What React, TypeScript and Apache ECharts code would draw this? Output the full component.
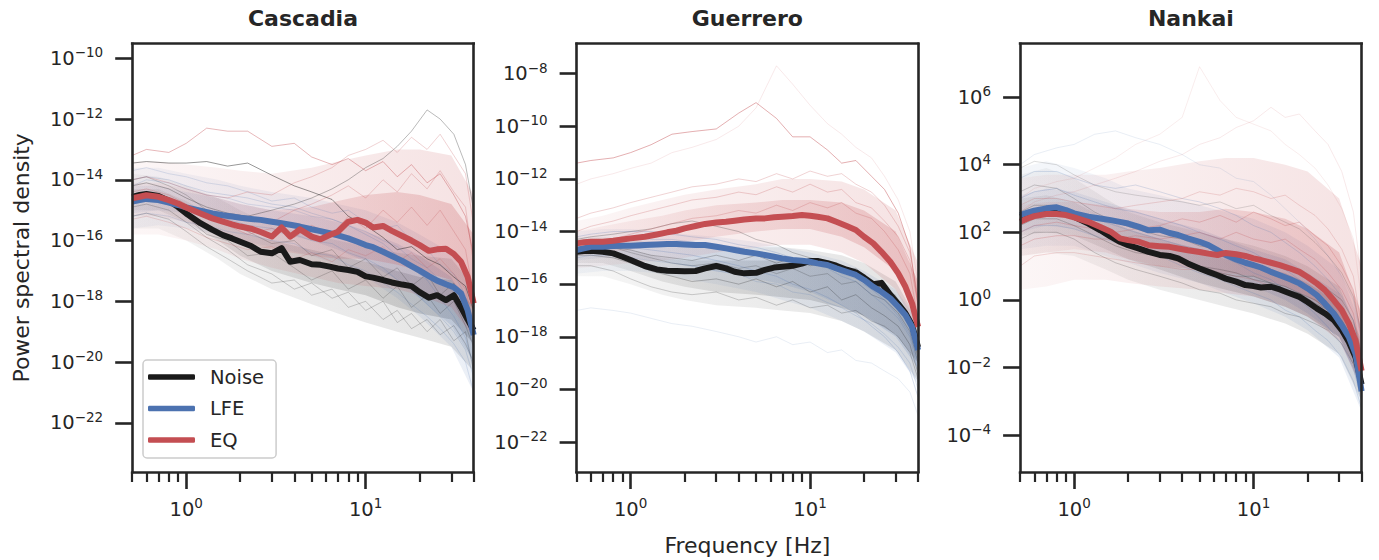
import { useEffect, useRef } from "react";
import * as echarts from "echarts";

// ---------------- DATA ----------------
// Frequencies (Hz) of the mean spectra
const FREQ = [0.5, 0.55, 0.6, 0.7, 0.8, 0.9, 1, 1.2, 1.4, 1.6, 1.8, 2, 2.3, 2.6, 3, 3.4, 3.8, 4.3, 5, 5.6, 6.3, 7, 8, 9, 10, 11, 12.5, 14, 16, 18, 20, 22.5, 25, 28, 31, 34, 37, 40];

// Mean spectra, log10 of power spectral density
const CAS_NOISE = [-14.56, -14.5, -14.47, -14.53, -14.69, -14.89, -15.11, -15.43, -15.65, -15.82, -15.93, -16.04, -16.18, -16.37, -16.42, -16.25, -16.7, -16.64, -16.78, -16.8, -16.86, -16.92, -16.97, -17.03, -17.18, -17.22, -17.3, -17.38, -17.45, -17.5, -17.7, -17.88, -17.8, -17.96, -17.8, -18.2, -18.6, -18.95];
const CAS_LFE = [-14.72, -14.67, -14.63, -14.67, -14.75, -14.83, -14.91, -15.02, -15.11, -15.17, -15.21, -15.25, -15.29, -15.32, -15.38, -15.43, -15.48, -15.54, -15.63, -15.69, -15.76, -15.83, -15.93, -16.04, -16.15, -16.22, -16.37, -16.51, -16.67, -16.84, -16.99, -17.17, -17.32, -17.44, -17.54, -17.74, -18.29, -19.11];
const CAS_EQ = [-14.61, -14.56, -14.51, -14.56, -14.67, -14.78, -14.91, -15.11, -15.27, -15.38, -15.47, -15.54, -15.61, -15.72, -15.87, -15.57, -15.87, -15.63, -15.87, -15.96, -15.82, -15.71, -15.38, -15.32, -15.41, -15.57, -15.52, -15.68, -15.85, -16.0, -16.15, -16.34, -16.29, -16.27, -16.44, -16.7, -17.19, -18.07];

const GUE_NOISE = [-14.77, -14.74, -14.73, -14.77, -14.83, -14.96, -15.08, -15.31, -15.44, -15.49, -15.5, -15.51, -15.5, -15.4, -15.31, -15.4, -15.53, -15.59, -15.57, -15.46, -15.37, -15.34, -15.3, -15.22, -15.12, -15.12, -15.2, -15.3, -15.45, -15.55, -15.75, -16.0, -15.95, -16.4, -16.75, -17.1, -17.55, -18.4];
const GUE_LFE = [-14.7, -14.64, -14.58, -14.58, -14.55, -14.54, -14.54, -14.51, -14.49, -14.47, -14.47, -14.49, -14.51, -14.51, -14.58, -14.64, -14.7, -14.77, -14.83, -14.89, -14.96, -15.02, -15.08, -15.11, -15.15, -15.21, -15.27, -15.4, -15.53, -15.65, -15.84, -16.1, -16.29, -16.54, -16.86, -17.17, -17.62, -18.5];
const GUE_EQ = [-14.45, -14.41, -14.39, -14.39, -14.35, -14.3, -14.26, -14.2, -14.11, -14.03, -13.97, -13.88, -13.79, -13.71, -13.66, -13.63, -13.59, -13.54, -13.5, -13.5, -13.46, -13.44, -13.41, -13.37, -13.4, -13.44, -13.5, -13.63, -13.79, -13.94, -14.2, -14.45, -14.77, -15.15, -15.59, -16.1, -16.73, -17.62];

const NAN_NOISE = [2.46, 2.52, 2.56, 2.61, 2.61, 2.56, 2.46, 2.26, 2.06, 1.87, 1.72, 1.62, 1.52, 1.42, 1.33, 1.3, 1.23, 1.08, 0.93, 0.83, 0.73, 0.63, 0.54, 0.44, 0.41, 0.37, 0.39, 0.31, 0.19, 0.09, -0.06, -0.25, -0.4, -0.6, -0.89, -1.25, -1.7, -2.5];
const NAN_LFE = [2.51, 2.58, 2.64, 2.71, 2.74, 2.66, 2.56, 2.46, 2.41, 2.36, 2.31, 2.26, 2.16, 2.06, 2.08, 1.98, 1.92, 1.82, 1.72, 1.62, 1.47, 1.33, 1.2, 1.1, 1.03, 0.96, 0.83, 0.73, 0.61, 0.49, 0.34, 0.14, -0.11, -0.4, -0.75, -1.1, -1.6, -2.7];
const NAN_EQ = [2.31, 2.41, 2.48, 2.54, 2.54, 2.51, 2.44, 2.31, 2.16, 2.02, 1.82, 1.77, 1.72, 1.62, 1.59, 1.57, 1.52, 1.47, 1.42, 1.37, 1.33, 1.39, 1.35, 1.3, 1.23, 1.18, 1.1, 1.03, 0.93, 0.83, 0.68, 0.49, 0.29, -0.01, -0.3, -0.7, -1.2, -2.1];

// Spread of the individual spectra: [outer low, outer high, inner low, inner high]
const BAND_FREQ = [0.5, 0.7, 1, 1.5, 2, 3, 5, 7, 10, 15, 20, 30, 40];
const CAS_NOISE_BAND = [
  [-15.6, -15.6, -16.0, -16.6, -17.1, -17.6, -18.1, -18.4, -18.7, -19.0, -19.2, -19.5, -20.3],
  [-13.8, -13.9, -14.2, -14.6, -15.0, -15.5, -15.8, -16.0, -16.2, -16.4, -16.5, -16.6, -17.5],
  [-15.0, -15.0, -15.4, -16.0, -16.5, -17.0, -17.4, -17.6, -17.8, -18.2, -18.4, -18.6, -19.4],
  [-14.3, -14.3, -14.7, -15.3, -15.7, -16.0, -16.3, -16.5, -16.7, -17.0, -17.2, -17.3, -18.2],
];
const CAS_LFE_BAND = [
  [-15.6, -15.5, -15.6, -15.8, -16.0, -16.2, -16.5, -16.8, -17.2, -17.9, -18.5, -19.5, -21.0],
  [-13.6, -13.6, -13.8, -14.0, -14.2, -14.4, -14.6, -14.8, -15.0, -15.4, -15.8, -16.4, -17.6],
  [-15.1, -15.0, -15.1, -15.3, -15.5, -15.7, -16.0, -16.3, -16.7, -17.3, -17.9, -18.8, -20.0],
  [-14.2, -14.2, -14.4, -14.6, -14.8, -15.0, -15.2, -15.4, -15.7, -16.1, -16.5, -17.2, -18.5],
];
const CAS_EQ_BAND = [
  [-15.8, -15.8, -16.0, -16.3, -16.6, -16.9, -17.2, -17.4, -17.5, -17.6, -17.8, -18.2, -19.2],
  [-13.4, -13.4, -13.5, -13.6, -13.7, -13.8, -13.6, -13.4, -13.2, -13.0, -13.0, -13.2, -14.5],
  [-15.2, -15.2, -15.4, -15.7, -16.0, -16.3, -16.5, -16.6, -16.6, -16.8, -17.0, -17.3, -18.3],
  [-14.1, -14.1, -14.3, -14.6, -14.8, -15.0, -14.9, -14.7, -14.5, -14.4, -14.5, -14.8, -15.8],
];
const GUE_NOISE_BAND = [
  [-15.7, -15.7, -16.0, -16.4, -16.6, -16.8, -16.9, -17.0, -17.1, -17.4, -17.8, -18.5, -19.7],
  [-14.2, -14.2, -14.3, -14.5, -14.6, -14.6, -14.6, -14.6, -14.7, -14.9, -15.2, -15.9, -17.4],
  [-15.2, -15.2, -15.5, -15.9, -16.1, -16.3, -16.4, -16.5, -16.6, -16.9, -17.2, -17.9, -19.0],
  [-14.5, -14.5, -14.7, -15.0, -15.1, -15.1, -15.1, -15.1, -15.2, -15.4, -15.7, -16.4, -17.9],
];
const GUE_LFE_BAND = [
  [-15.6, -15.5, -15.5, -15.6, -15.8, -16.0, -16.3, -16.6, -16.9, -17.4, -17.8, -18.6, -19.8],
  [-14.0, -13.9, -13.9, -14.0, -14.1, -14.2, -14.4, -14.6, -14.8, -15.1, -15.5, -16.2, -17.4],
  [-15.1, -15.0, -15.0, -15.1, -15.3, -15.5, -15.8, -16.0, -16.3, -16.8, -17.2, -18.0, -19.2],
  [-14.4, -14.3, -14.3, -14.4, -14.5, -14.6, -14.8, -15.0, -15.2, -15.6, -16.0, -16.7, -18.0],
];
const GUE_EQ_BAND = [
  [-15.4, -15.3, -15.2, -15.1, -15.0, -14.8, -14.6, -14.5, -14.5, -14.8, -15.2, -16.2, -17.8],
  [-13.6, -13.4, -13.1, -12.8, -12.6, -12.4, -12.2, -12.0, -12.0, -12.1, -12.4, -13.2, -15.2],
  [-14.9, -14.8, -14.7, -14.5, -14.4, -14.2, -14.0, -13.9, -13.9, -14.2, -14.6, -15.5, -17.0],
  [-14.0, -13.8, -13.6, -13.4, -13.2, -13.0, -12.9, -12.8, -12.8, -12.9, -13.2, -14.0, -15.9],
];
const NAN_NOISE_BAND = [
  [1.3, 1.4, 1.3, 0.9, 0.6, 0.3, 0.0, -0.2, -0.4, -0.7, -1.0, -1.6, -3.0],
  [3.7, 3.9, 3.6, 3.0, 2.6, 2.3, 2.0, 1.8, 1.6, 1.3, 1.0, 0.4, -1.2],
  [1.9, 2.0, 1.9, 1.5, 1.2, 0.9, 0.5, 0.3, 0.1, -0.2, -0.5, -1.1, -2.4],
  [3.0, 3.1, 2.9, 2.4, 2.1, 1.8, 1.5, 1.2, 1.0, 0.8, 0.5, -0.1, -1.8],
];
const NAN_LFE_BAND = [
  [1.5, 1.6, 1.6, 1.3, 1.1, 0.8, 0.5, 0.2, -0.1, -0.5, -0.9, -1.7, -3.3],
  [3.9, 4.1, 3.9, 3.6, 3.3, 3.1, 2.8, 2.6, 2.4, 2.0, 1.6, 0.9, -0.8],
  [2.0, 2.2, 2.1, 1.8, 1.6, 1.3, 1.0, 0.7, 0.4, 0.0, -0.4, -1.1, -2.7],
  [3.1, 3.3, 3.2, 2.9, 2.7, 2.4, 2.1, 1.8, 1.5, 1.2, 0.8, 0.2, -1.5],
];
const NAN_EQ_BAND = [
  [0.3, 0.4, 0.6, 0.6, 0.5, 0.4, 0.3, 0.2, 0.1, -0.2, -0.5, -1.2, -2.6],
  [3.6, 3.7, 3.7, 3.7, 3.8, 3.9, 4.1, 4.2, 4.2, 4.0, 3.8, 3.0, 1.0],
  [1.3, 1.4, 1.5, 1.4, 1.2, 1.0, 0.9, 0.8, 0.7, 0.4, 0.1, -0.5, -2.0],
  [2.8, 2.9, 2.9, 2.8, 2.7, 2.6, 2.6, 2.7, 2.6, 2.4, 2.1, 1.4, -0.4],
];

// A few individual spectra (log10 PSD)
const FAINT_FREQ = [0.5, 0.6, 0.8, 1, 1.3, 1.7, 2.2, 3, 4, 5, 6.5, 8, 10, 12.5, 15, 18, 22, 26, 31, 36, 40];
const CAS_NOISE_FAINT = [
  [-13.45, -13.4, -13.45, -13.45, -13.4, -13.55, -13.45, -13.85, -14.2, -14.4, -14.65, -15.2, -15.5, -15.9, -16.3, -16.2, -16.6, -16.8, -17.2, -17.5, -18.3],
  [-14.2, -14.1, -14.3, -14.6, -14.9, -15.1, -15.2, -15.0, -14.8, -14.6, -14.3, -14.0, -13.6, -13.3, -12.9, -12.4, -11.7, -12.0, -12.5, -13.5, -15.0],
  [-15.2, -15.1, -15.3, -15.7, -16.2, -16.6, -17.0, -17.4, -17.3, -17.8, -17.6, -18.2, -18.0, -18.6, -18.3, -18.9, -18.6, -19.1, -18.8, -19.4, -20.0],
  [-14.6, -14.5, -14.8, -15.2, -15.8, -16.0, -16.5, -16.4, -16.9, -17.3, -17.0, -17.6, -17.3, -17.9, -17.5, -18.2, -17.8, -18.4, -18.0, -18.8, -19.5],
  [-14.9, -14.8, -15.0, -15.4, -15.9, -16.3, -16.8, -17.1, -17.6, -17.4, -17.9, -17.7, -18.3, -18.0, -18.7, -18.4, -19.0, -18.6, -19.3, -19.0, -20.3],
  [-14.0, -13.9, -14.2, -14.5, -15.0, -15.4, -15.7, -16.1, -16.0, -16.5, -16.3, -16.9, -16.6, -17.2, -16.9, -17.5, -17.1, -17.8, -17.4, -18.2, -19.0],
];
const CAS_LFE_FAINT = [
  [-14.2, -14.0, -14.1, -14.3, -14.5, -14.6, -14.8, -14.9, -15.0, -15.2, -15.3, -15.5, -15.7, -16.0, -16.2, -16.6, -16.9, -17.3, -17.7, -18.4, -19.5],
  [-15.2, -15.1, -15.2, -15.4, -15.5, -15.7, -15.8, -16.0, -16.1, -16.4, -16.5, -16.8, -17.0, -17.4, -17.7, -18.1, -18.5, -18.9, -19.4, -20.0, -21.0],
  [-13.7, -13.6, -13.8, -13.9, -14.1, -14.2, -14.4, -14.7, -14.6, -14.9, -15.1, -15.0, -15.4, -15.6, -15.5, -16.0, -16.3, -16.8, -17.1, -17.8, -18.8],
  [-14.8, -14.7, -14.8, -15.0, -15.2, -15.3, -15.5, -15.6, -15.8, -16.0, -16.1, -16.4, -16.6, -16.9, -17.3, -17.6, -18.1, -18.5, -19.0, -19.6, -20.5],
  [-14.0, -13.9, -14.0, -14.2, -14.4, -14.5, -14.6, -14.8, -14.9, -15.1, -15.3, -15.5, -15.8, -16.1, -16.5, -16.9, -17.3, -17.9, -18.5, -19.2, -20.2],
];
const CAS_EQ_FAINT = [
  [-13.2, -13.0, -13.1, -12.8, -12.3, -12.4, -12.4, -12.9, -12.8, -13.25, -13.5, -13.3, -13.7, -13.4, -13.9, -13.5, -14.1, -13.8, -14.5, -15.2, -16.5],
  [-14.0, -13.9, -14.1, -14.3, -14.5, -14.6, -14.4, -14.5, -14.1, -13.9, -13.6, -13.2, -13.0, -12.7, -13.1, -12.6, -13.0, -12.5, -13.2, -13.8, -15.5],
  [-15.3, -15.2, -15.4, -15.6, -15.9, -16.1, -16.3, -16.2, -16.6, -16.4, -16.7, -16.3, -16.5, -16.2, -16.7, -16.4, -16.9, -16.6, -17.1, -17.6, -18.8],
  [-14.6, -14.5, -14.7, -14.9, -15.1, -15.3, -15.2, -15.4, -15.0, -14.8, -14.5, -14.2, -14.6, -14.0, -14.4, -13.8, -14.3, -13.7, -14.4, -14.9, -16.8],
  [-14.4, -14.3, -14.5, -14.8, -15.2, -15.5, -15.8, -15.6, -15.9, -15.5, -15.8, -15.2, -15.6, -15.0, -15.4, -14.9, -15.5, -15.0, -15.7, -16.3, -17.8],
];
const GUE_NOISE_FAINT = [
  [-14.6, -14.5, -14.6, -14.8, -15.0, -15.2, -15.3, -15.2, -15.4, -15.3, -15.6, -15.4, -15.7, -15.6, -16.0, -15.9, -16.4, -16.6, -17.1, -17.8, -19.0],
  [-14.3, -14.2, -14.1, -14.0, -13.9, -13.7, -13.6, -13.8, -14.0, -14.3, -14.5, -14.8, -15.0, -15.2, -15.5, -15.4, -15.9, -16.2, -16.8, -17.5, -18.6],
  [-15.3, -15.3, -15.5, -15.8, -16.1, -16.3, -16.4, -16.3, -16.6, -16.5, -16.8, -16.6, -16.9, -16.8, -17.1, -17.0, -17.4, -17.6, -18.0, -18.6, -19.6],
  [-14.9, -14.9, -15.0, -15.2, -15.5, -15.7, -15.9, -15.8, -16.0, -15.8, -16.1, -15.9, -16.3, -16.1, -16.6, -16.4, -16.9, -17.2, -17.6, -18.3, -19.4],
  [-14.7, -14.6, -14.6, -14.7, -14.9, -15.0, -15.1, -14.9, -15.1, -14.9, -15.2, -15.0, -15.3, -15.2, -15.5, -15.5, -15.9, -16.3, -16.9, -17.6, -18.8],
];
const GUE_LFE_FAINT = [
  [-14.4, -14.3, -14.3, -14.2, -14.3, -14.3, -14.4, -14.5, -14.6, -14.8, -14.9, -15.1, -15.2, -15.4, -15.7, -15.9, -16.4, -16.8, -17.3, -18.0, -19.3],
  [-17.0, -16.9, -17.0, -17.1, -17.3, -17.5, -17.6, -17.8, -18.0, -18.2, -18.0, -18.3, -18.2, -18.6, -18.5, -18.9, -19.0, -19.3, -19.6, -20.1, -21.0],
  [-15.0, -14.9, -14.9, -15.0, -15.1, -15.2, -15.3, -15.5, -15.6, -15.9, -16.0, -16.3, -16.4, -16.7, -16.9, -17.2, -17.5, -17.9, -18.4, -19.0, -20.0],
  [-14.8, -14.7, -14.6, -14.6, -14.7, -14.8, -14.9, -15.1, -15.3, -15.5, -15.7, -16.0, -16.2, -16.5, -16.8, -17.1, -17.6, -18.0, -18.6, -19.3, -20.3],
  [-14.2, -14.1, -14.0, -14.0, -14.0, -14.1, -14.2, -14.3, -14.5, -14.6, -14.8, -15.0, -15.1, -15.3, -15.6, -15.8, -16.2, -16.6, -17.2, -17.9, -19.0],
];
const GUE_EQ_FAINT = [
  [-11.4, -11.3, -11.2, -11.0, -10.7, -10.3, -10.2, -10.1, -9.5, -9.1, -9.7, -10.4, -10.4, -10.9, -11.4, -11.3, -11.9, -12.4, -13.3, -14.6, -16.8],
  [-12.2, -12.0, -11.8, -11.6, -11.4, -11.0, -10.8, -10.5, -10.0, -9.3, -7.7, -8.4, -9.2, -9.9, -10.3, -10.8, -11.2, -11.9, -12.8, -14.0, -16.0],
  [-14.0, -13.8, -13.6, -13.4, -13.2, -13.0, -12.8, -12.7, -12.5, -12.6, -12.3, -12.5, -12.2, -12.5, -12.4, -12.9, -13.1, -13.6, -14.2, -15.1, -16.8],
  [-14.6, -14.5, -14.3, -14.1, -13.9, -13.7, -13.5, -13.4, -13.2, -13.3, -13.0, -13.2, -12.9, -13.1, -12.9, -13.3, -13.5, -14.0, -14.7, -15.6, -17.3],
  [-13.5, -13.3, -13.1, -12.9, -12.7, -12.5, -12.3, -12.2, -12.0, -12.1, -11.8, -12.0, -11.7, -11.9, -11.8, -12.2, -12.5, -13.0, -13.8, -14.8, -16.5],
];
const NAN_NOISE_FAINT = [
  [3.2, 3.4, 3.3, 3.0, 2.6, 2.3, 2.1, 1.9, 1.8, 1.6, 1.5, 1.3, 1.2, 1.1, 0.9, 0.8, 0.5, 0.3, 0.0, -0.6, -1.6],
  [1.8, 2.0, 2.0, 1.8, 1.4, 1.1, 0.9, 0.7, 0.5, 0.3, 0.2, 0.0, -0.1, -0.2, -0.4, -0.5, -0.7, -0.9, -1.3, -1.9, -2.8],
  [3.9, 4.1, 4.0, 3.7, 3.4, 3.2, 3.1, 3.0, 2.9, 2.8, 2.9, 2.7, 2.8, 2.5, 2.3, 2.1, 1.7, 1.3, 0.8, 0.1, -1.0],
  [2.6, 2.8, 2.8, 2.5, 2.1, 1.8, 1.6, 1.4, 1.2, 1.0, 0.9, 0.8, 0.6, 0.5, 0.3, 0.2, -0.1, -0.3, -0.7, -1.3, -2.3],
  [2.2, 2.4, 2.4, 2.2, 1.9, 1.6, 1.4, 1.3, 1.1, 1.0, 0.8, 0.7, 0.7, 0.5, 0.4, 0.2, 0.0, -0.3, -0.6, -1.2, -2.2],
];
const NAN_LFE_FAINT = [
  [3.6, 3.8, 3.8, 3.6, 3.4, 3.3, 3.4, 3.2, 3.0, 2.9, 2.7, 2.5, 2.2, 2.0, 1.7, 1.4, 1.0, 0.6, 0.1, -0.6, -1.8],
  [2.0, 2.2, 2.2, 2.1, 1.9, 1.7, 1.5, 1.3, 1.0, 0.8, 0.6, 0.4, 0.2, 0.0, -0.3, -0.5, -0.9, -1.2, -1.7, -2.4, -3.2],
  [4.0, 4.3, 4.5, 4.6, 4.9, 5.0, 4.8, 4.6, 4.3, 4.0, 3.9, 3.6, 3.5, 3.1, 2.7, 2.3, 1.8, 1.3, 0.7, 0.0, -1.2],
  [3.0, 3.2, 3.3, 3.1, 2.9, 2.7, 2.6, 2.4, 2.2, 2.0, 1.8, 1.6, 1.4, 1.1, 0.9, 0.6, 0.2, -0.2, -0.7, -1.4, -2.5],
  [2.4, 2.6, 2.7, 2.6, 2.4, 2.2, 2.0, 1.8, 1.6, 1.5, 1.3, 1.1, 0.8, 0.6, 0.3, 0.0, -0.4, -0.8, -1.3, -2.0, -3.0],
];
const NAN_EQ_FAINT = [
  [3.0, 3.3, 3.5, 3.6, 3.9, 4.2, 4.6, 4.9, 5.4, 6.9, 5.9, 5.4, 5.2, 5.0, 4.6, 4.3, 3.9, 3.4, 2.7, 1.8, 0.0],
  [1.0, 1.3, 1.4, 1.4, 1.3, 1.2, 1.1, 1.0, 0.9, 0.9, 0.8, 0.7, 0.6, 0.4, 0.3, 0.1, -0.2, -0.5, -0.9, -1.5, -2.4],
  [2.8, 3.0, 3.0, 2.9, 2.8, 2.7, 2.8, 2.9, 3.0, 3.2, 3.1, 3.3, 3.2, 3.0, 3.1, 2.8, 2.5, 2.1, 1.5, 0.7, -0.8],
  [2.0, 2.2, 2.3, 2.2, 2.1, 2.0, 2.1, 2.2, 2.4, 2.3, 2.5, 2.3, 2.6, 2.4, 2.2, 2.3, 1.9, 1.6, 1.0, 0.3, -1.2],
  [1.6, 1.8, 1.9, 1.9, 1.8, 1.8, 1.9, 1.8, 1.9, 2.0, 1.8, 2.0, 1.8, 1.7, 1.8, 1.5, 1.2, 0.8, 0.3, -0.4, -1.6],
  [2.6, 2.9, 3.1, 3.2, 3.4, 3.6, 3.8, 4.1, 4.3, 4.6, 4.8, 5.1, 5.3, 5.7, 5.4, 5.5, 5.0, 4.6, 3.8, 2.6, 0.6],
];

const TITLES = ["Cascadia", "Guerrero", "Nankai"];
const LEGEND = ["Noise", "LFE", "EQ"];
const CAS_YTICKS = [-22, -20, -18, -16, -14, -12, -10];
const GUE_YTICKS = [-22, -20, -18, -16, -14, -12, -10, -8];
const NAN_YTICKS = [-4, -2, 0, 2, 4, 6];
const X_MAJOR = [1, 10];
const X_MINOR = [0.5, 0.6, 0.7, 0.8, 0.9, 2, 3, 4, 5, 6, 7, 8, 9, 20, 30, 40];
const X_LIM = [0.5, 40];
// y limits in log10 units
const CAS_YLIM = [-23.62, -9.52];
const GUE_YLIM = [-23.14, -6.86];
const NAN_YLIM = [-5.09, 7.58];

const MEANS = [[CAS_NOISE, CAS_LFE, CAS_EQ], [GUE_NOISE, GUE_LFE, GUE_EQ], [NAN_NOISE, NAN_LFE, NAN_EQ]];
const BANDS = [[CAS_NOISE_BAND, CAS_LFE_BAND, CAS_EQ_BAND], [GUE_NOISE_BAND, GUE_LFE_BAND, GUE_EQ_BAND], [NAN_NOISE_BAND, NAN_LFE_BAND, NAN_EQ_BAND]];
const FAINTS = [[CAS_NOISE_FAINT, CAS_LFE_FAINT, CAS_EQ_FAINT], [GUE_NOISE_FAINT, GUE_LFE_FAINT, GUE_EQ_FAINT], [NAN_NOISE_FAINT, NAN_LFE_FAINT, NAN_EQ_FAINT]];
const YTICKS = [CAS_YTICKS, GUE_YTICKS, NAN_YTICKS];
const YLIMS = [CAS_YLIM, GUE_YLIM, NAN_YLIM];

// ---------------- STYLE / LAYOUT ----------------
const FONT = "DejaVu Sans";
const AX = "#262626";
const COLORS = ["#1a1a1a", "#4c72b0", "#c44e52"];
const RGB = ["26,26,26", "76,114,176", "196,78,82"];
// band opacity [outer left, outer right], [inner left, inner right]
const BAND_ALPHA = [
  [[0.04, 0.12], [0.06, 0.18]],
  [[0.06, 0.11], [0.08, 0.17]],
  [[0.05, 0.16], [0.06, 0.24]],
];
const FAINT_OPACITY = [
  [[0.45, 0.3, 0.2, 0.2, 0.2, 0.2], [0.18, 0.18, 0.18, 0.2, 0.2], [0.4, 0.25, 0.2, 0.25, 0.25]],
  [[0.2, 0.25, 0.2, 0.25, 0.25], [0.2, 0.12, 0.18, 0.22, 0.22], [0.45, 0.12, 0.25, 0.25, 0.25]],
  [[0.2, 0.2, 0.15, 0.22, 0.22], [0.2, 0.2, 0.12, 0.22, 0.22], [0.1, 0.2, 0.2, 0.25, 0.25, 0.12]],
];
const GRID_LEFT = [132.2, 576.6, 1020.1];
const GRID_W = 341.5;
const GRID_TOP = 43.7;
const GRID_H = 428.3;

const lg = (f: number) => Math.log10(f);
const pairs = (fs: number[], vs: number[]) => vs.map((v, k) => [lg(fs[k]), v]);
const sup = (e: number) => {
  const s = e < 0 ? "\u2212" + Math.abs(e) : String(e);
  return `{b|10}{s|${s}}`;
};
const RICH = {
  b: { fontSize: 19.5, lineHeight: 26, color: AX, fontFamily: FONT },
  s: { fontSize: 13.5, lineHeight: 14, verticalAlign: "top", color: AX, fontFamily: FONT },
};

function buildOption() {
  const grid: any[] = [];
  const xAxis: any[] = [];
  const yAxis: any[] = [];
  const series: any[] = [];
  const spine = { show: true, onZero: false, lineStyle: { color: AX, width: 2.6, cap: "square" } };
  const noLine = { show: false, onZero: false };

  for (let p = 0; p < 3; p++) {
    grid.push({
      left: GRID_LEFT[p], top: GRID_TOP, width: GRID_W, height: GRID_H,
      containLabel: false, outerBoundsMode: "none",
    });
    const xBase = { gridIndex: p, type: "value", min: lg(X_LIM[0]), max: lg(X_LIM[1]), splitLine: { show: false }, z: 6 };
    xAxis.push({
      ...xBase, position: "bottom", axisLine: spine,
      axisTick: { show: true, length: 17, lineStyle: { color: AX, width: 2.6 }, customValues: X_MAJOR.map(lg) },
      axisLabel: { show: true, customValues: X_MAJOR.map(lg), margin: 24, formatter: (v: number) => sup(Math.round(v)), rich: RICH },
      ...(p === 1 ? { name: "Frequency [Hz]", nameLocation: "middle", nameGap: 62, nameTextStyle: { fontSize: 22, color: AX, fontFamily: FONT } } : {}),
    });
    xAxis.push({
      ...xBase, position: "bottom", axisLine: noLine,
      axisTick: { show: true, length: 10, lineStyle: { color: AX, width: 2.2 }, customValues: X_MINOR.map(lg) },
      axisLabel: { show: false },
    });
    xAxis.push({ ...xBase, position: "top", axisLine: spine, axisTick: { show: false }, axisLabel: { show: false } });

    const [ymin, ymax] = YLIMS[p];
    const yBase = { gridIndex: p, type: "value", min: ymin, max: ymax, splitLine: { show: false }, z: 6 };
    yAxis.push({
      ...yBase, position: "left", axisLine: spine,
      axisTick: { show: true, length: 17, lineStyle: { color: AX, width: 2.6 }, customValues: YTICKS[p] },
      axisLabel: { show: true, customValues: YTICKS[p], margin: 29, formatter: (v: number) => sup(Math.round(v)), rich: RICH },
      ...(p === 0 ? { name: "Power spectral density", nameLocation: "middle", nameGap: 100, nameTextStyle: { fontSize: 22, color: AX, fontFamily: FONT } } : {}),
    });
    yAxis.push({ ...yBase, position: "right", axisLine: spine, axisTick: { show: false }, axisLabel: { show: false } });

    const xi = p * 3;
    const yi = p * 2;
    // spread bands (polygons between low and high envelopes, placed through the axes)
    for (let c = 0; c < 3; c++) {
      const band = BANDS[p][c];
      for (let k = 0; k < 2; k++) {
        const lo = band[k * 2];
        const hi = band[k * 2 + 1];
        const [a0, a1] = BAND_ALPHA[c][k];
        const fill = new echarts.graphic.LinearGradient(0, 0, 1, 0, [
          { offset: 0, color: `rgba(${RGB[c]},${a0})` },
          { offset: 1, color: `rgba(${RGB[c]},${a1})` },
        ]);
        series.push({
          type: "custom", xAxisIndex: xi, yAxisIndex: yi, silent: true, clip: true, z: 1,
          data: [[lg(BAND_FREQ[0]), lo[0]]],
          renderItem: (_params: any, api: any) => {
            const top = hi.map((v, j) => api.coord([lg(BAND_FREQ[j]), v]));
            const bottom = lo.map((v, j) => api.coord([lg(BAND_FREQ[j]), v])).reverse();
            return { type: "polygon", shape: { points: top.concat(bottom) }, style: { fill } };
          },
        });
      }
    }
    // individual spectra
    for (let c = 0; c < 3; c++) {
      FAINTS[p][c].forEach((arr, j) => {
        series.push({
          type: "line", xAxisIndex: xi, yAxisIndex: yi, symbol: "none", silent: true,
          lineStyle: { color: COLORS[c], width: 1, opacity: FAINT_OPACITY[p][c][j] },
          data: pairs(FAINT_FREQ, arr), z: 2,
        });
      });
    }
    // means
    for (let c = 0; c < 3; c++) {
      series.push({
        type: "line", name: LEGEND[c], xAxisIndex: xi, yAxisIndex: yi, symbol: "none", silent: true,
        lineStyle: { color: COLORS[c], width: 6, join: "round" }, itemStyle: { color: COLORS[c] },
        data: pairs(FREQ, MEANS[p][c]), z: 3,
      });
    }
  }

  const graphic = TITLES.map((t, p) => ({
    type: "text", x: GRID_LEFT[p] + GRID_W / 2, y: 18, silent: true,
    style: { text: t, align: "center", verticalAlign: "middle", fontSize: 22, fontWeight: "bold", fontFamily: FONT, fill: AX },
  }));

  return {
    animation: false,
    backgroundColor: "#ffffff",
    textStyle: { fontFamily: FONT },
    grid, xAxis, yAxis, series, graphic,
    legend: {
      data: LEGEND, orient: "vertical", left: 143, top: 360, padding: [7, 12, 8, 5], itemGap: 11.5,
      itemWidth: 47, itemHeight: 5.5, icon: "roundRect", selectedMode: false,
      backgroundColor: "rgba(255,255,255,0.85)", borderColor: "#cccccc", borderWidth: 1.5, borderRadius: 4,
      textStyle: { fontSize: 19.5, color: AX, fontFamily: FONT, padding: [0, 0, 0, 10] }, z: 20,
    },
  };
}

export default function App() {
  const ref = useRef<HTMLDivElement>(null);
  useEffect(() => {
    if (!ref.current) return;
    const chart = echarts.init(ref.current, null, { renderer: "svg" });
    chart.setOption(buildOption() as any);
    return () => chart.dispose();
  }, []);
  return <div ref={ref} style={{ position: "fixed", left: 0, top: 0, width: 1379, height: 560, background: "#fff" }} />;
}
